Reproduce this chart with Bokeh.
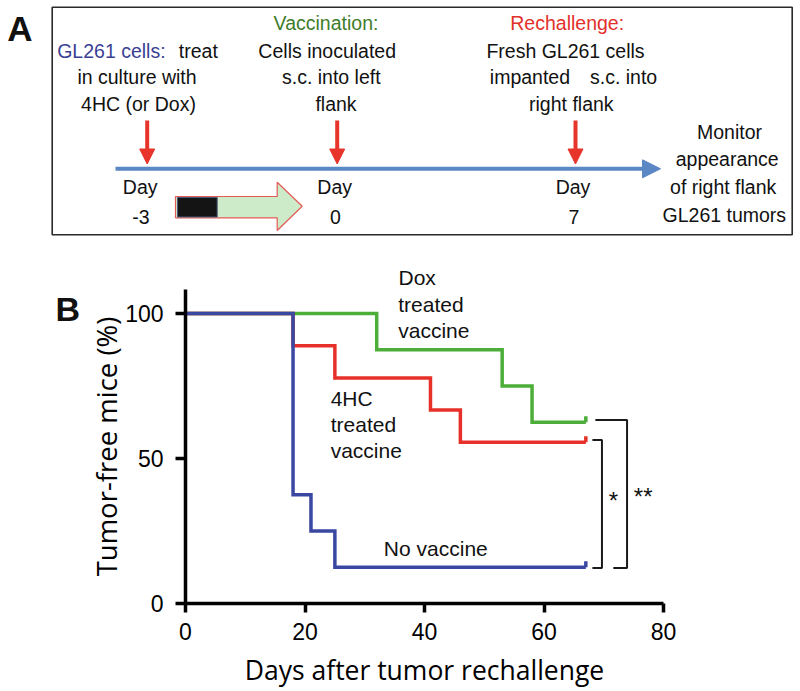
from bokeh.plotting import figure
from bokeh.models import Range1d, Arrow, NormalHead, FixedTicker
from bokeh.layouts import column, row
from bokeh.embed import file_html
from bokeh.resources import INLINE
from bokeh.core.properties import value

# ---------------- Panel B data (Kaplan-Meier) ----------------
days_dox = [0, 32, 53, 58, 67]
surv_dox = [100, 87.5, 75, 62.5, 62.5]
days_4hc = [0, 18, 25, 41, 46, 67]
surv_4hc = [100, 88.9, 77.8, 66.7, 55.6, 55.6]
days_none = [0, 18, 21, 25, 67]
surv_none = [100, 37.5, 25, 12.5, 12.5]
x_ticks = [0, 20, 40, 60, 80]
y_ticks = [0, 50, 100]
label_dox = ["Dox", "treated", "vaccine"]
label_4hc = ["4HC", "treated", "vaccine"]
label_none = ["No vaccine"]
sig_labels = ["*", "**"]

# ---------------- Panel A content (schematic timeline) ----------------
day_labels = ["-3", "0", "7"]
col1 = ["in culture with", "4HC (or Dox)"]
col2_head = "Vaccination:"
col2 = ["Cells inoculated", "s.c. into left", "flank"]
col3_head = "Rechallenge:"
col3 = ["Fresh GL261 cells", "right flank"]
col4 = ["Monitor", "appearance", "of right flank", "GL261 tumors"]

SANS = "Liberation Sans"
HUM = "Open Sans"
BL = 0.34  # baseline correction (em)

# ======================= Panel A =======================
HA = 289
pA = figure(width=800, height=HA, x_range=Range1d(0, 800), y_range=Range1d(HA, 0),
            x_axis_type=None, y_axis_type=None, output_backend="svg",
            toolbar_location=None, min_border=0)
pA.frame_align = False
pA.grid.visible = False
pA.outline_line_color = None

# frame box
pA.quad(left=[51.7], right=[791.7], top=[6.7], bottom=[234.3],
        fill_color=None, line_color="#2a2a2a", line_width=1.6)

# timeline
pA.add_layout(Arrow(x_start=115, y_start=168.3, x_end=660, y_end=168.3,
                    line_color="#5b87c4", line_width=4,
                    end=NormalHead(size=18, fill_color="#5b87c4", line_color="#5b87c4")))
# red event arrows
ev_x = [146.7, 336.7, 575.0]
for xx in ev_x:
    pA.add_layout(Arrow(x_start=xx, y_start=120, x_end=xx, y_end=163.5,
                        line_color="#e8352c", line_width=4,
                        end=NormalHead(size=15, fill_color="#e8352c", line_color="#e8352c")))

# block arrow (in vitro treatment)
pA.patch(x=[175, 276.7, 276.7, 301.7, 276.7, 276.7, 175],
         y=[196, 196, 181.7, 205.8, 230, 217.3, 217.3],
         fill_color="#cdeac9", line_color="#e25a55", line_width=1.2)
pA.quad(left=[177], right=[216.7], top=[197], bottom=[216.5],
        fill_color="#141414", line_color="#4a5a7a", line_width=1)

def txtA(x, y, t, color="#111111", align="center", size=19.5, style="normal"):
    pA.text(x=[x], y=[y - BL * size], text=[t], text_align=align, text_baseline="alphabetic",
            text_font=value(SANS), text_font_size=f"{size}px", text_color=color,
            text_font_style=style)

txtA(6.7, 40, "A", align="left", size=35, style="bold")
# column 1
txtA(56.7, 57.3, "GL261 cells:", color="#3a3f94", align="left")
txtA(178.3, 57.3, "treat", align="left")
txtA(136.5, 83.5, col1[0])
txtA(138, 110.5, col1[1])
# column 2
txtA(325.5, 29.5, col2_head, color="#3f7d2c")
txtA(326.7, 57.3, col2[0])
txtA(330.8, 83.5, col2[1])
txtA(335.5, 110.5, col2[2])
# column 3
txtA(566.7, 29.5, col3_head, color="#e2312b")
txtA(565, 57.3, col3[0])
txtA(489.3, 83.5, "impanted", align="left")
txtA(656.7, 83.5, "s.c. into", align="right")
txtA(570.8, 110.5, col3[1])
# column 4
txtA(729, 138.3, col4[0])
txtA(726.7, 165.3, col4[1])
txtA(722.7, 193.0, col4[2])
txtA(723.8, 221.5, col4[3])
# day labels
day_x = [139.7, 334.2, 572.5]
for xx, d in zip(day_x, day_labels):
    txtA(xx, 192.7, "Day")
    txtA(xx + 0.8, 223.3, d)
# first line of the Dox curve label (sits above panel B's frame)
txtA(398, 284, label_dox[0], align="left", size=21)

# ======================= Panel B letter =======================
HB = 691 - HA
pL = figure(width=80, height=HB, x_range=Range1d(0, 80), y_range=Range1d(HB, 0),
            x_axis_type=None, y_axis_type=None, output_backend="svg",
            toolbar_location=None, min_border=0)
pL.frame_align = False
pL.grid.visible = False
pL.outline_line_color = None
pL.text(x=[55], y=[320 - HA - BL * 34], text=["B"], text_font=value(SANS),
        text_font_size="34px", text_font_style="bold", text_baseline="alphabetic",
        text_color="#111111")

# ======================= Panel B =======================
PX_PER_UNIT = 2.9
BOTTOM = 88
pB = figure(width=720, height=HB, x_range=Range1d(0, 80),
            y_range=Range1d(0, (HB - BOTTOM) / PX_PER_UNIT),
            output_backend="svg", toolbar_location=None,
            min_border_left=105, min_border_right=137, min_border_top=0, min_border_bottom=BOTTOM)
pB.frame_align = False
pB.grid.visible = False
pB.outline_line_color = None

for ax, ticks, tout in ((pB.xaxis, x_ticks, 9), (pB.yaxis, y_ticks, 10)):
    ax.ticker = FixedTicker(ticks=ticks)
    ax.axis_line_width = 3.5
    ax.axis_line_color = "black"
    ax.major_tick_line_width = 3.5
    ax.major_tick_line_color = "black"
    ax.major_tick_out = tout
    ax.major_tick_in = 0
    ax.minor_tick_line_color = None
    ax.major_label_text_font = SANS
    ax.major_label_text_font_size = "23px"
    ax.major_label_text_color = "black"
    ax.axis_label_text_font = HUM
    ax.axis_label_text_font_style = "normal"
    ax.axis_label_text_color = "black"

pB.xaxis.axis_label = "Days after tumor rechallenge"
pB.yaxis.axis_label = "Tumor-free mice (%)"
pB.xaxis.axis_label_text_font_size = "26.5px"
pB.yaxis.axis_label_text_font_size = "27.5px"
pB.xaxis.major_label_standoff = 10
pB.yaxis.major_label_standoff = 12
pB.xaxis.axis_label_standoff = 9
pB.yaxis.axis_label_standoff = -3

c_dox, c_4hc, c_none = "#4cae38", "#e8302a", "#3a48a2"
for d, s, c in ((days_dox, surv_dox, c_dox), (days_4hc, surv_4hc, c_4hc), (days_none, surv_none, c_none)):
    pB.step(d, s, mode="after", line_width=3.5, line_color=c, line_join="miter")
    # censor tick at end of follow-up
    pB.segment(x0=[d[-1]], y0=[s[-1]], x1=[d[-1]], y1=[s[-1] + 2.1], line_width=3.5, line_color=c)

# significance brackets
top1, bot = surv_4hc[-1] + 0.8, surv_none[-1] - 0.3
top2 = surv_dox[-1] + 0.8
pB.multi_line(xs=[[68.1, 69.7, 69.7, 68.1], [68.6, 73.9, 73.9, 71.6]],
              ys=[[top1, top1, bot, bot], [top2, top2, bot, bot]],
              line_color="#1a1a1a", line_width=2)

def lab(x, y, t, size=21, align="left"):
    pB.text(x=[x], y=[y + BL * size / PX_PER_UNIT], text=[t], text_font=value(SANS),
            text_font_size=f"{size}px", text_align=align, text_baseline="alphabetic",
            text_color="#111111")

for i, t in enumerate(label_dox[1:]):
    lab(35.6, 100.7 - 8.95 * i, t)
for i, t in enumerate(label_4hc):
    lab(24.3, 68.2 - 8.9 * i, t)
lab(33.2, 16.5, label_none[0])
lab(71.6, 32.7, sig_labels[0], size=24, align="center")
lab(76.6, 34.0, sig_labels[1], size=24, align="center")

layout = column(pA, row(pL, pB, spacing=0), spacing=0)
open("out.html", "w").write(file_html(layout, INLINE))
